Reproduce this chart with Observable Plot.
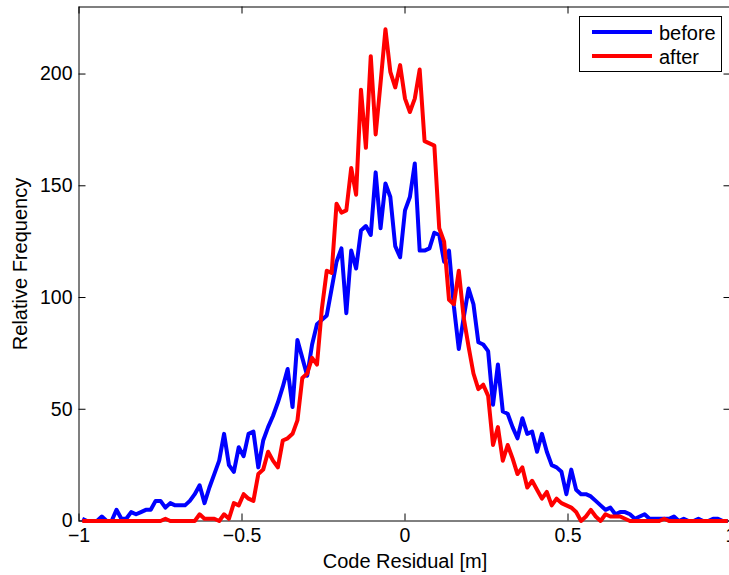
<!DOCTYPE html>
<html>
<head>
<meta charset="utf-8">
<script src="https://cdn.jsdelivr.net/npm/d3@7"></script>
<script src="https://cdn.jsdelivr.net/npm/@observablehq/plot@0.6"></script>
<style>
  body { margin: 0; background: #fff; }
  #chart { position: relative; width: 729px; height: 575px; }
  #legend { position: absolute; left: 0; top: 0; pointer-events: none; }
</style>
</head>
<body>
<div id="chart"></div>
<script>
// Histogram of code residuals: bin centres are k * binWidth, k = firstBin..lastBin
const binWidth = 0.015;
const firstBin = -66;
const lastBin = 66;

// Relative frequency per bin, before correction
const before = [
  1, 0, 0, 0, 2, 0, 0, 5, 1, 1,
  4, 3, 4, 5, 5, 9, 9, 6, 8, 7,
  7, 7, 9, 12, 16, 8, 15, 21, 27, 39,
  25, 22, 33, 29, 39, 40, 24, 36, 42, 47,
  53, 60, 68, 51, 81, 73, 65, 79, 88, 90,
  92, 104, 116, 122, 93, 121, 113, 130, 132, 128,
  156, 131, 151, 145, 123, 118, 139, 145, 160, 121,
  121, 122, 129, 128, 116, 121, 96, 77, 91, 104,
  97, 80, 79, 76, 52, 70, 49, 48, 42, 37,
  46, 39, 40, 31, 39, 31, 25, 24, 22, 12,
  23, 14, 12, 12, 11, 9, 7, 5, 6, 3,
  4, 4, 3, 1, 2, 3, 1, 1, 1, 1,
  1, 2, 0, 1, 0, 0, 1, 0, 0, 1,
  1, 0, 0
];

// Relative frequency per bin, after correction
const after = [
  0, 0, 0, 0, 0, 0, 0, 0, 0, 0,
  0, 0, 0, 0, 0, 0, 0, 1, 0, 0,
  0, 0, 0, 0, 3, 1, 1, 1, 0, 3,
  1, 8, 7, 12, 10, 9, 21, 23, 31, 27,
  24, 36, 37, 39, 45, 64, 66, 73, 70, 95,
  112, 111, 142, 138, 139, 158, 146, 193, 167, 208,
  173, 196, 220, 201, 194, 204, 189, 183, 189, 202,
  170, 169, 168, 131, 125, 99, 97, 112, 91, 78,
  66, 59, 61, 56, 34, 42, 27, 34, 28, 21,
  24, 15, 18, 14, 10, 13, 7, 10, 8, 7,
  6, 4, 0, 2, 5, 2, 0, 3, 2, 2,
  2, 1, 0, 0, 0, 0, 0, 0, 0, 1,
  0, 0, 0, 0, 0, 0, 0, 0, 0, 0,
  0, 0, 0
];

const seriesNames = ["before", "after"];
const seriesColors = ["#0000ff", "#ff0000"];

const xTicks = [-1, -0.5, 0, 0.5, 1];
const xTickLabels = ["\u22121", "\u22120.5", "0", "0.5", "1"];
const yTicks = [0, 50, 100, 150, 200];
const yTickLabels = ["0", "50", "100", "150", "200"];

const xTitle = "Code Residual [m]";
const yTitle = "Relative Frequency";

// Long table: one row per bin and series
const series = [before, after];
const rows = [];
seriesNames.forEach((name, s) => {
  series[s].forEach((v, i) => {
    rows.push({series: name, x: (firstBin + i) * binWidth, value: v});
  });
});

const xLabelOf = new Map(xTicks.map((t, i) => [t, xTickLabels[i]]));
const yLabelOf = new Map(yTicks.map((t, i) => [t, yTickLabels[i]]));

const W = 729, H = 575;
const mLeft = 78.5, mRight = -1.5, mTop = 6.5, mBottom = 54.5;
const innerW = W - mLeft - mRight;
const innerH = H - mTop - mBottom;
const tickLen = 7;
const fontStack = '"Liberation Sans", Arial, Helvetica, sans-serif';

const plot = Plot.plot({
  width: W,
  height: H,
  marginLeft: mLeft,
  marginRight: mRight,
  marginTop: mTop,
  marginBottom: mBottom,
  x: {domain: [-1, 1], label: null},
  y: {domain: [0, 230], label: null},
  color: {domain: seriesNames, range: seriesColors},
  style: {
    fontFamily: fontStack,
    fontSize: "19.5px",
    color: "#000",
    background: "#fff",
    overflow: "visible"
  },
  marks: [
    Plot.frame({stroke: "#000", strokeWidth: 1}),
    // inward tick marks on all four sides
    Plot.tickY(yTicks, {y: d => d, insetRight: innerW - tickLen, stroke: "#000"}),
    Plot.tickY(yTicks, {y: d => d, insetLeft: innerW - tickLen, stroke: "#000"}),
    Plot.tickX(xTicks, {x: d => d, insetTop: innerH - tickLen, stroke: "#000"}),
    Plot.tickX(xTicks, {x: d => d, insetBottom: innerH - tickLen, stroke: "#000"}),
    Plot.axisX({ticks: xTicks, tickSize: 0, tickPadding: 7, label: null,
                tickFormat: d => xLabelOf.get(d)}),
    Plot.axisY({ticks: yTicks, tickSize: 0, tickPadding: 6.5, label: null,
                tickFormat: d => yLabelOf.get(d)}),
    Plot.line(rows, {
      x: "x", y: "value", z: "series", stroke: "series",
      strokeWidth: 4, strokeLinejoin: "round", strokeLinecap: "butt"
    }),
    Plot.text([xTitle], {text: d => d, frameAnchor: "bottom", dy: 47,
                         lineAnchor: "bottom", textAnchor: "middle", fontSize: 20}),
    Plot.text([yTitle], {text: d => d, frameAnchor: "left", dx: -52.5, rotate: -90,
                         lineAnchor: "bottom", textAnchor: "middle", fontSize: 20})
  ]
});

const chart = document.getElementById("chart");
chart.appendChild(plot);

// Legend box in the upper-right corner of the axes
const legend = d3.select(chart).append("svg")
  .attr("id", "legend")
  .attr("width", W)
  .attr("height", H)
  .style("font-family", fontStack)
  .style("font-size", "20px");

const box = {x: 579.5, y: 16.5, w: 142, h: 55};
legend.append("rect")
  .attr("x", box.x).attr("y", box.y)
  .attr("width", box.w).attr("height", box.h)
  .attr("fill", "#fff").attr("stroke", "#000").attr("stroke-width", 1);

const rowGap = 24;
const item = legend.selectAll("g.item")
  .data(seriesNames)
  .join("g")
  .attr("class", "item")
  .attr("transform", (d, i) => `translate(0,${32 + i * rowGap})`);

item.append("line")
  .attr("x1", 592).attr("x2", 652)
  .attr("y1", 0).attr("y2", 0)
  .attr("stroke", (d, i) => seriesColors[i])
  .attr("stroke-width", 4);

item.append("text")
  .attr("x", 659)
  .attr("y", 7.5)
  .attr("fill", "#000")
  .text(d => d);
</script>
</body>
</html>
